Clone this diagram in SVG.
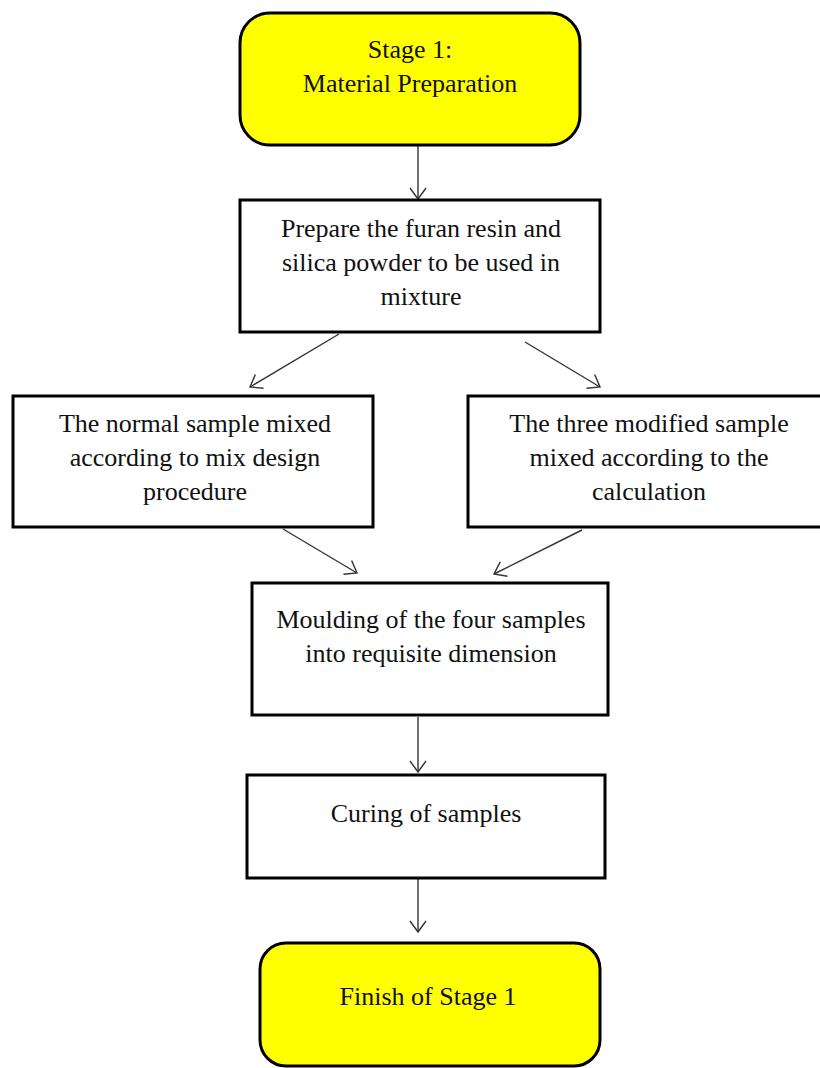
<svg xmlns="http://www.w3.org/2000/svg" width="820" height="1068" viewBox="0 0 820 1068">
<style>
.box{fill:#fff;stroke:#000;stroke-width:3}
.term{fill:#ffff00;stroke:#000;stroke-width:3}
.t{font-family:"Liberation Serif","Times New Roman",serif;font-size:26px;fill:#111;text-anchor:middle}
.c{fill:none;stroke:#333;stroke-width:1.4}
</style>
<defs>
<marker id="ah" markerUnits="userSpaceOnUse" markerWidth="20" markerHeight="20" refX="12" refY="9" orient="auto">
<path d="M1,1 L12,9 L1,17" fill="none" stroke="#333" stroke-width="1.4"/>
</marker>
</defs>
<rect width="820" height="1068" fill="#fff"/>
<g id="connectors">
<line class="c" x1="418" y1="146" x2="418" y2="199" marker-end="url(#ah)"/>
<line class="c" x1="339" y1="334" x2="250" y2="387" marker-end="url(#ah)"/>
<line class="c" x1="525" y1="342" x2="600" y2="387" marker-end="url(#ah)"/>
<line class="c" x1="283" y1="529" x2="357" y2="573" marker-end="url(#ah)"/>
<line class="c" x1="582" y1="530" x2="494" y2="574" marker-end="url(#ah)"/>
<line class="c" x1="418" y1="717" x2="418" y2="772" marker-end="url(#ah)"/>
<line class="c" x1="418" y1="879" x2="418" y2="932" marker-end="url(#ah)"/>
</g>
<g id="start">
<rect class="term" x="240" y="13" width="340" height="132" rx="30"/>
<text class="t" x="410" y="58">Stage 1:</text>
<text class="t" x="410" y="92">Material Preparation</text>
</g>
<g id="prepare">
<rect class="box" x="240" y="200" width="360" height="132"/>
<text class="t" x="421" y="237">Prepare the furan resin and</text>
<text class="t" x="421" y="271">silica  powder to be used in</text>
<text class="t" x="421" y="305">mixture</text>
</g>
<g id="normal">
<rect class="box" x="13" y="396" width="360" height="131"/>
<text class="t" x="195" y="432">The normal sample mixed</text>
<text class="t" x="195" y="466">according to mix  design</text>
<text class="t" x="195" y="500">procedure</text>
</g>
<g id="modified">
<rect class="box" x="468" y="396" width="362" height="131"/>
<text class="t" x="649" y="432">The three modified sample</text>
<text class="t" x="649" y="466">mixed according to the</text>
<text class="t" x="649" y="500">calculation</text>
</g>
<g id="moulding">
<rect class="box" x="252" y="583" width="356" height="132"/>
<text class="t" x="431" y="628">Moulding of the four samples</text>
<text class="t" x="431" y="662">into requisite dimension</text>
</g>
<g id="curing">
<rect class="box" x="247" y="775" width="358" height="103"/>
<text class="t" x="426" y="822">Curing of samples</text>
</g>
<g id="finish">
<rect class="term" x="260" y="943" width="340" height="123" rx="26"/>
<text class="t" x="428" y="1005">Finish of Stage 1</text>
</g>
</svg>
